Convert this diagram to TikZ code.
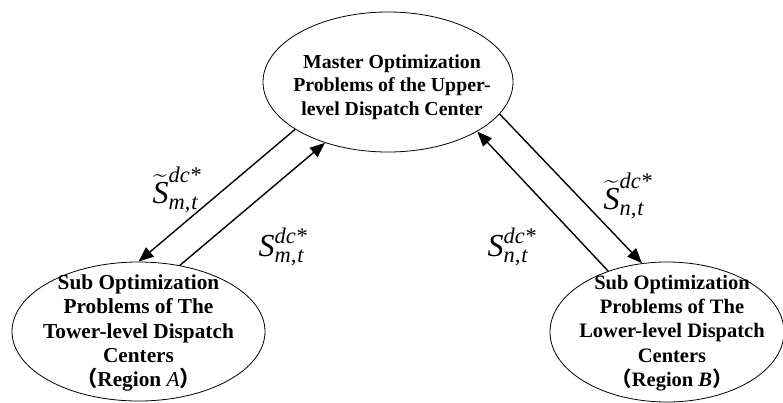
\documentclass[tikz,border=0pt]{standalone}
\usepackage{fontspec}
\usepackage{amsmath}
\setmainfont{Liberation Serif}
\newfontfamily\cjkfont{Noto Sans CJK SC}
\usetikzlibrary{arrows.meta,shapes.geometric}
\tikzset{
  bubble/.style={draw, ellipse, line width=0.8pt, inner sep=0pt},
  caption/.style={align=center, inner sep=0pt,
    font=\bfseries\fontsize{19.8}{23.5}\selectfont},
  subcaption/.style={align=center, inner sep=0pt,
    font=\bfseries\fontsize{20.5}{24.2}\selectfont},
  widecaption/.style={subcaption, font=\bfseries\fontsize{21.3}{24.2}\selectfont},
  flow/.style={line width=1.4pt, -{Triangle[length=15pt,width=12pt]}},
  sym/.style={inner sep=0pt, font=\fontsize{32}{32}\selectfont},
}
% variables exchanged between the dispatch centres
\newcommand{\tvar}[1]{$\widetilde{\text{\itshape S}}^{\text{\itshape dc*}}_{\text{\itshape #1,\kern1pt t}}$}
\newcommand{\pvar}[1]{$\text{\itshape S}^{\text{\itshape dc*}}_{\text{\itshape #1,\kern1pt t}}$}
\begin{document}
\begin{tikzpicture}[x=1pt,y=-1pt]
\useasboundingbox (0,0) rectangle (783,402);

% upper-level master problem
\node[bubble, minimum width=250pt, minimum height=140pt] (master) at (388,82) {};
\node[caption] (masterT) at (392,87)
  {Master Optimization\\Problems of the Upper-\\level Dispatch Center};

% region A sub problem
\node[bubble, minimum width=253pt, minimum height=139pt] (subA) at (138.5,331.5) {};
\node[widecaption] (subAT) at (138.5,333)
  {Sub Optimization\\Problems of The\\Tower-level Dispatch\\Centers\\
   {\cjkfont （}Region {\mdseries\itshape A}{\cjkfont ）}};

% region B sub problem
\node[bubble, minimum width=234pt, minimum height=140pt] (subB) at (667,332) {};
\node[subcaption] (subBT) at (672,333)
  {Sub Optimization\\Problems of The\\Lower-level Dispatch\\Centers\\
   {\cjkfont （}Region {\itshape B}{\cjkfont ）}};

% exchange with region A
\draw[flow] (master.207) -- (subA.90);
\draw[flow] (subA.58) -- (master.224);
% exchange with region B
\draw[flow] (master.344) -- (subB.110);
\draw[flow] (subB.134.5) -- (master.331);

% exchanged quantities
\node[sym] (tA) at (177,190) {\tvar{m}};
\node[sym] (pA) at (283,247) {\pvar{m}};
\node[sym] (tB) at (628,196) {\tvar{n}};
\node[sym] (pB) at (512,247) {\pvar{n}};
\end{tikzpicture}
\end{document}
